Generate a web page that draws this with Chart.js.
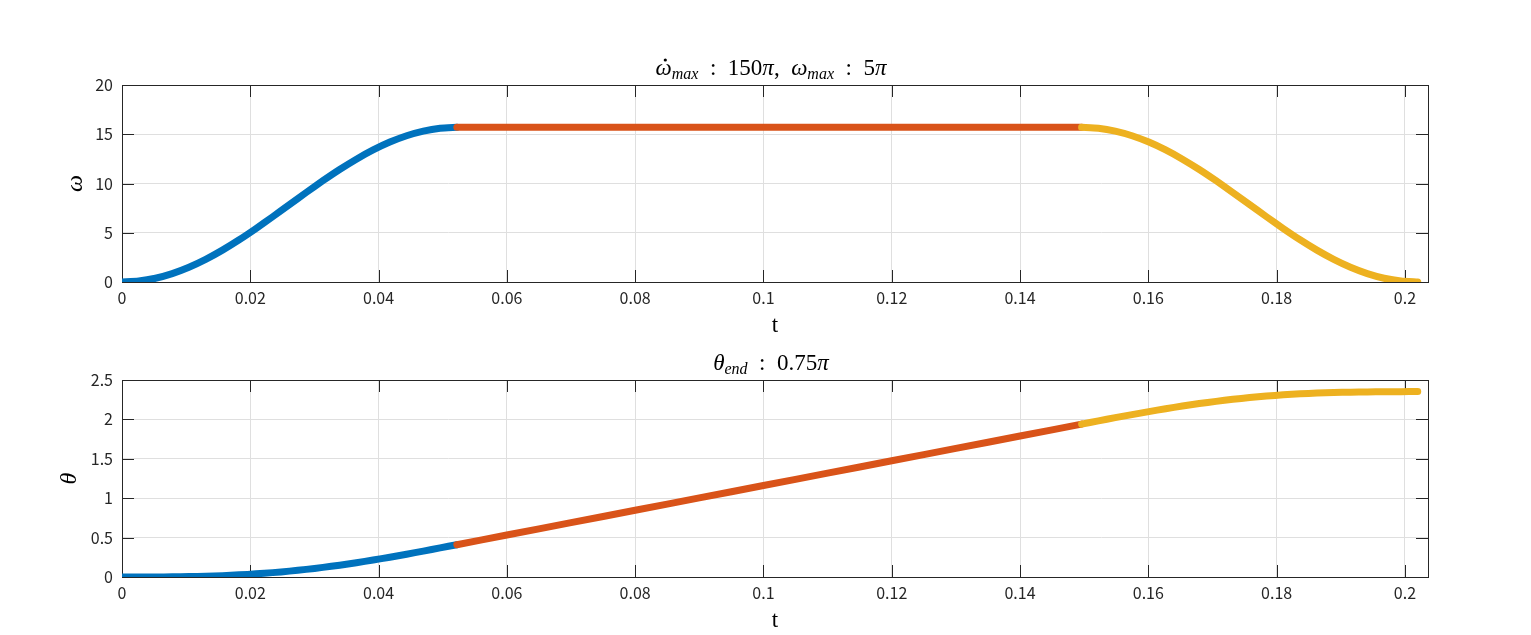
<!DOCTYPE html>
<html>
<head>
<meta charset="utf-8">
<script src="https://cdn.jsdelivr.net/npm/chart.js@4.4.1/dist/chart.umd.min.js"></script>
<style>
  body { margin: 0; background: #fff; }
  .box { position: absolute; left: 0; width: 1531px; }
  #top { top: 0; height: 340px; }
  #bottom { top: 340px; height: 295px; }
</style>
</head>
<body>
<div class="box" id="top"><canvas id="omegaChart" width="1531" height="340"></canvas></div>
<div class="box" id="bottom"><canvas id="thetaChart" width="1531" height="295"></canvas></div>
<script>
// phase 1: acceleration
const tAccel = [0, 0.00261, 0.00522, 0.00783, 0.01044, 0.01305, 0.01566, 0.01827, 0.02088, 0.02349, 0.0261,
  0.02871, 0.03132, 0.03393, 0.03654, 0.03915, 0.04176, 0.04437, 0.04698, 0.04959, 0.0522];
const omegaAccel = [0, 0.097, 0.384, 0.856, 1.5, 2.3, 3.238, 4.288, 5.427, 6.625, 7.854,
  9.083, 10.281, 11.42, 12.47, 13.408, 14.208, 14.852, 15.324, 15.611, 15.708];
const thetaAccel = [0, 0.0001, 0.0007, 0.0023, 0.0053, 0.0102, 0.0174, 0.0272, 0.0399, 0.0556, 0.0745,
  0.0966, 0.1219, 0.1502, 0.1814, 0.2152, 0.2513, 0.2893, 0.3287, 0.3691, 0.41];

// phase 2: constant speed
const tConst = [0.0522, 0.06, 0.07, 0.08, 0.09, 0.1, 0.11, 0.12, 0.13, 0.14, 0.1496];
const omegaConst = [15.708, 15.708, 15.708, 15.708, 15.708, 15.708, 15.708, 15.708, 15.708, 15.708, 15.708];
const thetaConst = [0.41, 0.533, 0.69, 0.847, 1.004, 1.161, 1.318, 1.475, 1.632, 1.789, 1.94];

// phase 3: deceleration
const tDecel = [0.1496, 0.15222, 0.15484, 0.15746, 0.16008, 0.1627, 0.16532, 0.16794, 0.17056, 0.17318, 0.1758,
  0.17842, 0.18104, 0.18366, 0.18628, 0.1889, 0.19152, 0.19414, 0.19676, 0.19938, 0.202];
const omegaDecel = [15.708, 15.611, 15.324, 14.852, 14.208, 13.408, 12.47, 11.42, 10.281, 9.083, 7.854,
  6.625, 5.427, 4.288, 3.238, 2.3, 1.5, 0.856, 0.384, 0.097, 0];
const thetaDecel = [1.94, 1.981, 2.022, 2.061, 2.099, 2.136, 2.169, 2.201, 2.229, 2.255, 2.277,
  2.296, 2.312, 2.324, 2.334, 2.341, 2.346, 2.349, 2.351, 2.352, 2.353];

const xRange = [0, 0.2036];
const xStep = 0.02;
const omegaRange = [0, 20];
const omegaStep = 5;
const thetaRange = [0, 2.5];
const thetaStep = 0.5;

const colors = ['#0072BD', '#D95319', '#EDB120'];
const axisColor = '#262626';
const gridColor = '#dfdfdf';
const tickFont = { family: '"Noto Sans CJK JP", "Noto Sans", sans-serif', size: 16 };
const mathFont = '"Liberation Serif", "DejaVu Serif", serif';

function pts(xs, ys) {
  return xs.map((x, i) => ({ x: x, y: ys[i] }));
}

function fmt(v) {
  return String(Number(v.toFixed(4)));
}

// draw a row of text pieces with different fonts, centred on cx
function drawRich(ctx, parts, cx, y) {
  let total = 0;
  parts.forEach(p => { ctx.font = p.f; total += ctx.measureText(p.t).width; });
  let x = cx - total / 2;
  ctx.textAlign = 'left';
  ctx.textBaseline = 'alphabetic';
  parts.forEach(p => {
    ctx.font = p.f;
    ctx.fillText(p.t, x, y + (p.dy || 0));
    const w = ctx.measureText(p.t).width;
    if (p.dot) {
      ctx.beginPath();
      ctx.arc(x + w * 0.6, y - 15, 1.6, 0, Math.PI * 2);
      ctx.fill();
    }
    x += w;
  });
}

const big = '23px ' + mathFont;
const bigI = 'italic 23px ' + mathFont;
const sub = 'italic 16px ' + mathFont;
const rel = '\u2002:\u2002';

// MATLAB style box, inward ticks, title and axis labels
const matlabAxes = {
  id: 'matlabAxes',
  beforeDatasetsDraw(chart, args, opts) {
    const ctx = chart.ctx;
    const a = chart.chartArea;
    const xs = chart.scales.x, ys = chart.scales.y;
    const len = 12;
    ctx.save();
    ctx.strokeStyle = axisColor;
    ctx.lineWidth = 1;
    ctx.beginPath();
    xs.ticks.forEach(t => {
      const px = Math.round(xs.getPixelForValue(t.value)) + 0.5;
      ctx.moveTo(px, a.bottom); ctx.lineTo(px, a.bottom - len);
      ctx.moveTo(px, a.top); ctx.lineTo(px, a.top + len);
    });
    ys.ticks.forEach(t => {
      const py = Math.round(ys.getPixelForValue(t.value)) + 0.5;
      ctx.moveTo(a.left, py); ctx.lineTo(a.left + len, py);
      ctx.moveTo(a.right, py); ctx.lineTo(a.right - len, py);
    });
    ctx.stroke();
    ctx.strokeRect(Math.round(a.left) + 0.5, Math.round(a.top) + 0.5,
      Math.round(a.right - a.left), Math.round(a.bottom - a.top));
    ctx.restore();
  },
  afterDraw(chart, args, opts) {
    const ctx = chart.ctx;
    const a = chart.chartArea;
    const cx = (a.left + a.right) / 2;
    ctx.save();
    ctx.fillStyle = '#000';
    drawRich(ctx, opts.title, cx - 4, a.top - 10);
    drawRich(ctx, [{ t: 't', f: '23px ' + mathFont }], cx, a.bottom + 50);
    ctx.translate(opts.ylabelX, (a.top + a.bottom) / 2);
    ctx.rotate(-Math.PI / 2);
    drawRich(ctx, [{ t: opts.ylabel, f: 'italic 24px ' + mathFont }], 0, 0);
    ctx.restore();
  }
};

function makeChart(id, ys, yRange, yStep, title, ylabel, ylabelX, topPad) {
  const sets = [
    { data: pts(tAccel, ys[0]), borderColor: colors[0], order: 3 },
    { data: pts(tConst, ys[1]), borderColor: colors[1], order: 2 },
    { data: pts(tDecel, ys[2]), borderColor: colors[2], order: 1 }
  ];
  sets.forEach(s => {
    s.showLine = true;
    s.borderWidth = 7;
    s.pointRadius = 0;
    s.tension = 0.2;
    s.borderCapStyle = 'round';
    s.borderJoinStyle = 'round';
    s.fill = false;
  });
  return new Chart(document.getElementById(id).getContext('2d'), {
    type: 'scatter',
    data: { datasets: sets },
    options: {
      responsive: false,
      animation: false,
      events: [],
      layout: { padding: { left: 0, right: 103, top: topPad, bottom: 28 } },
      plugins: {
        legend: { display: false },
        tooltip: { enabled: false },
        matlabAxes: { title: title, ylabel: ylabel, ylabelX: ylabelX }
      },
      scales: {
        x: {
          type: 'linear', min: xRange[0], max: xRange[1],
          grid: { color: gridColor, drawTicks: false },
          border: { display: false },
          ticks: {
            stepSize: xStep, includeBounds: false, autoSkip: false, maxRotation: 0,
            padding: 6, color: axisColor, font: tickFont, callback: v => fmt(v)
          },
          afterFit: s => { s.height = 30; }
        },
        y: {
          min: yRange[0], max: yRange[1],
          grid: { color: gridColor, drawTicks: false },
          border: { display: false },
          ticks: {
            stepSize: yStep, padding: 9, color: axisColor, font: tickFont, callback: v => fmt(v)
          },
          afterFit: s => { s.width = 122; }
        }
      }
    },
    plugins: [matlabAxes]
  });
}

makeChart('omegaChart', [omegaAccel, omegaConst, omegaDecel], omegaRange, omegaStep,
  [{ t: 'ω', f: bigI, dot: true }, { t: 'max', f: sub, dy: 4 }, { t: rel + '150', f: big }, { t: 'π', f: bigI },
   { t: ',  ', f: big }, { t: 'ω', f: bigI }, { t: 'max', f: sub, dy: 4 }, { t: rel + '5', f: big }, { t: 'π', f: bigI }],
  'ω', 82, 85);

makeChart('thetaChart', [thetaAccel, thetaConst, thetaDecel], thetaRange, thetaStep,
  [{ t: 'θ', f: bigI }, { t: 'end', f: sub, dy: 4 }, { t: rel + '0.75', f: big }, { t: 'π', f: bigI }],
  'θ', 76, 40);
</script>
</body>
</html>
